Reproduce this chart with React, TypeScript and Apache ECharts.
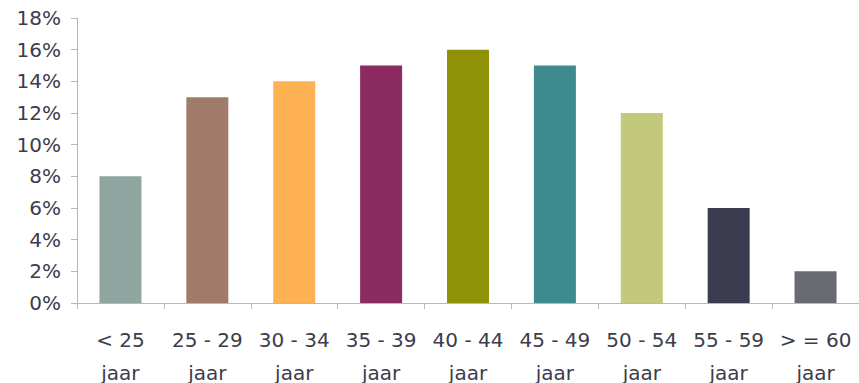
import React, { useEffect, useRef } from "react";
import * as echarts from "echarts";

const categories = ["< 25\njaar", "25 - 29\njaar", "30 - 34\njaar", "35 - 39\njaar", "40 - 44\njaar", "45 - 49\njaar", "50 - 54\njaar", "55 - 59\njaar", "> = 60\njaar"];
const values = [8, 13, 14, 15, 16, 15, 12, 6, 2];
const colors = ["#8fa59f", "#a07b69", "#fdb153", "#8c2a62", "#8f9206", "#3d8b8f", "#c3c97a", "#3c3c50", "#6a6a72"];
const yTicks = { min: 0, max: 18, interval: 2 };

const FONT = "DejaVu Sans, Liberation Sans, Arial, sans-serif";

export default function App() {
  const ref = useRef<HTMLDivElement>(null);
  useEffect(() => {
    const chart = echarts.init(ref.current!, null, { renderer: "svg" });
    chart.setOption({
      animation: false,
      grid: { left: 77, right: 0, top: 18, bottom: 80, containLabel: false, outerBoundsMode: "none" },
      xAxis: {
        type: "category",
        data: categories,
        axisLine: { lineStyle: { color: "#b8b8b8", width: 1 } },
        axisTick: { show: true, length: 6, lineStyle: { color: "#b8b8b8" } },
        axisLabel: {
          color: "#3c3c4c",
          fontFamily: FONT,
          fontSize: 20,
          lineHeight: 33,
          margin: 20,
          interval: 0,
        },
      },
      yAxis: {
        type: "value",
        min: yTicks.min,
        max: yTicks.max,
        interval: yTicks.interval,
        splitLine: { show: false },
        axisLine: { show: true, lineStyle: { color: "#b8b8b8", width: 1 } },
        axisTick: { show: true, length: 6, lineStyle: { color: "#b8b8b8" } },
        axisLabel: {
          color: "#3c3c4c",
          fontFamily: FONT,
          fontSize: 20,
          margin: 16,
          formatter: (v: number) => `${v}%`,
        },
      },
      series: [
        {
          type: "bar",
          barWidth: 42,
          data: values.map((v, i) => ({ value: v, itemStyle: { color: colors[i] } })),
        },
      ],
    });
    return () => chart.dispose();
  }, []);
  return <div ref={ref} style={{ position: "absolute", left: 0, top: 0, width: 859, height: 383 }} />;
}
